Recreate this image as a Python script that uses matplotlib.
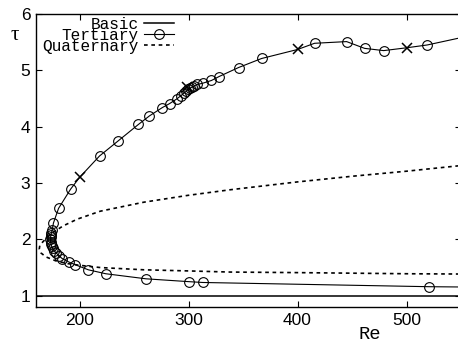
import numpy as np
import matplotlib.pyplot as plt

# basic state
basic_re = [160, 550]
basic_tau = [1.0, 1.0]

# tertiary branch, lower part (right to left), turning point, upper part (left to right)
tert_re = [550, 521, 313, 300, 261, 224, 208, 196, 190, 184, 181, 178.5, 176.5, 175.2,
           174.3, 173.7, 173.4, 173.3, 173.4, 173.7, 174.2, 174.8, 176, 180.7, 191.7,
           200, 218.3, 234.9, 254, 264, 276, 282.6, 289, 293, 296, 298, 299.5, 301,
           303, 305, 308, 312.8, 321, 328, 345.9, 367, 400, 415.6, 445, 461.5, 479,
           500, 519, 550]
tert_tau = [1.155, 1.16, 1.235, 1.25, 1.30, 1.39, 1.46, 1.55, 1.60, 1.66, 1.71, 1.76,
            1.80, 1.84, 1.88, 1.92, 1.96, 2.00, 2.04, 2.08, 2.12, 2.16, 2.29, 2.55,
            2.89, 3.10, 3.48, 3.74, 4.04, 4.19, 4.34, 4.41, 4.49, 4.55, 4.60, 4.63,
            4.66, 4.68, 4.70, 4.72, 4.75, 4.77, 4.82, 4.89, 5.05, 5.21, 5.37, 5.48,
            5.51, 5.39, 5.35, 5.40, 5.45, 5.58]
# bifurcation points marked with crosses
cross_re = [200, 299, 400, 500]
cross_tau = [3.10, 4.70, 5.37, 5.40]

# quaternary branch
quat_re = [550, 500, 450, 400, 338, 299, 259, 219, 198, 185, 176, 170, 166, 163.5,
           163, 164.5, 169, 178, 189, 200, 219, 259, 300, 338, 400, 450, 500, 550]
quat_tau = [3.31, 3.21, 3.12, 3.02, 2.88, 2.78, 2.66, 2.50, 2.36, 2.24, 2.13, 2.03,
            1.95, 1.89, 1.83, 1.76, 1.69, 1.62, 1.57, 1.54, 1.50, 1.46, 1.44, 1.42,
            1.41, 1.40, 1.39, 1.385]

crosses = set(zip(cross_re, cross_tau))
circ = [(r, t) for r, t in zip(tert_re[1:-1], tert_tau[1:-1]) if (r, t) not in crosses]
circ_re = [r for r, t in circ]
circ_tau = [t for r, t in circ]

fig = plt.figure(figsize=(4.58, 3.47), dpi=100)
ax = fig.add_axes([0.0786, 0.1153, 0.928, 0.8444])

ax.plot(basic_re, basic_tau, color='black', lw=1.1)
ax.plot(tert_re, tert_tau, color='black', lw=0.8)
ax.plot(circ_re, circ_tau, ls='none', marker='o', ms=7, mfc='none', mec='black', mew=0.8)
ax.plot(cross_re, cross_tau, ls='none', marker='x', ms=7, mec='black', mew=1.1)
ax.plot(quat_re, quat_tau, color='black', lw=1.2, ls=(0, (2.2, 2.2)))

# legend handles
h_basic, = ax.plot([], [], color='black', lw=1.1)
h_tert, = ax.plot([], [], color='black', lw=0.8, marker='o', ms=7, mfc='none', mec='black', mew=0.8)
h_quat, = ax.plot([], [], color='black', lw=1.2, ls=(0, (2.2, 2.2)))
leg = ax.legend([h_basic, h_tert, h_quat], ['Basic', 'Tertiary', 'Quaternary'],
                loc='upper right', bbox_to_anchor=(0.325, 0.99), frameon=False,
                markerfirst=False, handlelength=1.9, handletextpad=0.3,
                labelspacing=-0.25, borderpad=0, borderaxespad=0,
                prop={'family': 'Liberation Mono', 'size': 11.6})

ax.set_xlim(160, 550)
ax.set_ylim(0.8, 6)
ax.set_xticks([200, 300, 400, 500])
ax.set_yticks([1, 2, 3, 4, 5, 6])
ax.tick_params(direction='in', top=True, right=True, length=4, width=0.8,
               labelsize=12.5, pad=4)
for lab in ax.get_xticklabels() + ax.get_yticklabels():
    lab.set_family('Liberation Sans')
for s in ax.spines.values():
    s.set_linewidth(1.0)

ax.set_xlabel('Re', family='Liberation Mono', fontsize=13.5)
ax.xaxis.set_label_coords(0.785, -0.065)
ax.set_ylabel('τ', family='Liberation Serif', fontsize=15, rotation=0)
ax.yaxis.set_label_coords(-0.05, 0.895)

fig.savefig('out.png', dpi=100)
